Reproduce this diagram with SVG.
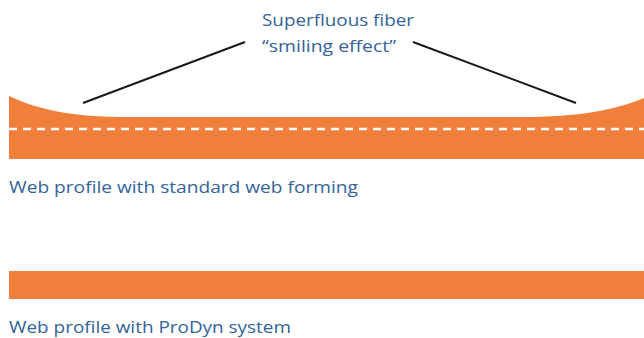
<svg xmlns="http://www.w3.org/2000/svg" width="644" height="338" viewBox="0 0 644 338">
<style>
.web{fill:#EF7F3A}
.lbl{font-family:"Open Sans","Liberation Sans",sans-serif;font-size:16.5px;fill:#336399}
.lead{stroke:#1a1a1a;stroke-width:2;fill:none}
.dash{stroke:#fff;stroke-width:2.5;stroke-dasharray:8 6;fill:none}
</style>
<rect width="644" height="338" fill="#fff"/>
<g id="web-standard">
<path class="web" d="M9,96 C40,110 70,117 130,117 L520,117 C580,117 615,110 644,98 L644,159 L9,159 Z"/>
<line class="dash" x1="9" y1="129" x2="644" y2="129"/>
</g>
<g id="web-prodyn">
<rect class="web" x="9" y="271" width="635" height="28"/>
</g>
<g id="connectors">
<line class="lead" x1="83" y1="103" x2="245" y2="42"/>
<line class="lead" x1="413" y1="42" x2="576" y2="103"/>
</g>
<g id="callout">
<text class="lbl" x="262" y="26" textLength="152" lengthAdjust="spacingAndGlyphs">Superfluous fiber</text>
<text class="lbl" x="262" y="52" textLength="134" lengthAdjust="spacingAndGlyphs">“smiling effect”</text>
</g>
<g id="label-standard"><text class="lbl" x="9" y="193" textLength="349" lengthAdjust="spacingAndGlyphs">Web profile with standard web forming</text></g>
<g id="label-prodyn"><text class="lbl" x="9" y="333" textLength="282" lengthAdjust="spacingAndGlyphs">Web profile with ProDyn system</text></g>
</svg>
